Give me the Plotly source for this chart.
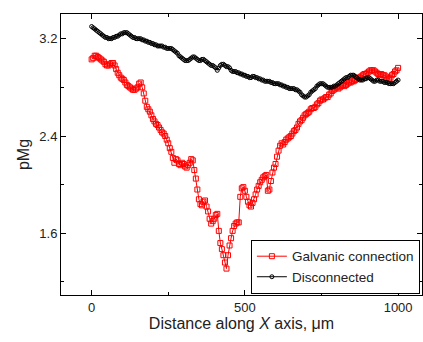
import plotly.graph_objects as go

distance_um = [
    0, 5, 10, 15, 20, 25, 30, 35, 40, 45, 50, 55, 60, 65, 70, 75, 80, 85, 90, 95,
    100, 105, 110, 115, 120, 125, 130, 135, 140, 145, 150, 155, 160, 165, 170, 175, 180, 185, 190, 195,
    200, 205, 210, 215, 220, 225, 230, 235, 240, 245, 250, 255, 260, 265, 270, 275, 280, 285, 290, 295,
    300, 305, 310, 315, 320, 325, 330, 335, 340, 345, 350, 355, 360, 365, 370, 375, 380, 385, 390, 395,
    400, 405, 410, 415, 420, 425, 430, 435, 440, 445, 450, 455, 460, 465, 470, 475, 480, 485, 490, 495,
    500, 505, 510, 515, 520, 525, 530, 535, 540, 545, 550, 555, 560, 565, 570, 575, 580, 585, 590, 595,
    600, 605, 610, 615, 620, 625, 630, 635, 640, 645, 650, 655, 660, 665, 670, 675, 680, 685, 690, 695,
    700, 705, 710, 715, 720, 725, 730, 735, 740, 745, 750, 755, 760, 765, 770, 775, 780, 785, 790, 795,
    800, 805, 810, 815, 820, 825, 830, 835, 840, 845, 850, 855, 860, 865, 870, 875, 880, 885, 890, 895,
    900, 905, 910, 915, 920, 925, 930, 935, 940, 945, 950, 955, 960, 965, 970, 975, 980, 985, 990, 995,
    1000]

galvanic = [
    3.03, 3.04, 3.06, 3.06, 3.05, 3.04, 3.03, 3.02, 3.01, 2.99, 2.98, 2.98, 2.99, 3.00, 3.00, 2.98, 2.95, 2.92, 2.90, 2.88,
    2.87, 2.86, 2.84, 2.82, 2.81, 2.80, 2.79, 2.78, 2.78, 2.79, 2.80, 2.83, 2.84, 2.80, 2.75, 2.69, 2.64, 2.62, 2.60, 2.57,
    2.54, 2.52, 2.50, 2.49, 2.47, 2.45, 2.43, 2.42, 2.40, 2.37, 2.34, 2.30, 2.27, 2.22, 2.18, 2.21, 2.20, 2.17, 2.16, 2.18,
    2.17, 2.15, 2.14, 2.16, 2.18, 2.21, 2.20, 2.12, 2.05, 1.96, 1.88, 1.84, 1.83, 1.86, 1.87, 1.82, 1.78, 1.72, 1.68, 1.70,
    1.72, 1.75, 1.76, 1.62, 1.52, 1.47, 1.42, 1.36, 1.31, 1.42, 1.50, 1.56, 1.62, 1.66, 1.68, 1.69, 1.69, 1.90, 1.97, 1.98,
    1.95, 1.90, 1.86, 1.83, 1.82, 1.85, 1.88, 1.92, 1.96, 1.99, 2.02, 2.04, 2.06, 2.07, 2.08, 1.95, 1.96, 2.03, 2.10, 2.14,
    2.17, 2.23, 2.28, 2.32, 2.34, 2.33, 2.35, 2.37, 2.38, 2.39, 2.40, 2.42, 2.44, 2.45, 2.47, 2.50, 2.52, 2.53, 2.55, 2.57,
    2.58, 2.59, 2.60, 2.62, 2.63, 2.63, 2.64, 2.66, 2.67, 2.69, 2.70, 2.70, 2.71, 2.72, 2.72, 2.74, 2.75, 2.77, 2.78, 2.79,
    2.80, 2.79, 2.80, 2.81, 2.82, 2.81, 2.82, 2.83, 2.84, 2.84, 2.85, 2.85, 2.86, 2.87, 2.88, 2.88, 2.89, 2.90, 2.91, 2.91,
    2.92, 2.93, 2.94, 2.94, 2.94, 2.93, 2.92, 2.91, 2.90, 2.91, 2.90, 2.90, 2.89, 2.88, 2.87, 2.88, 2.90, 2.91, 2.93, 2.94,
    2.96]

disconnected = [
    3.30, 3.29, 3.28, 3.27, 3.26, 3.25, 3.24, 3.23, 3.22, 3.21, 3.21, 3.20, 3.20, 3.20, 3.21, 3.21, 3.22, 3.22, 3.23, 3.24,
    3.24, 3.25, 3.25, 3.25, 3.24, 3.23, 3.22, 3.21, 3.21, 3.20, 3.20, 3.20, 3.20, 3.19, 3.19, 3.18, 3.18, 3.17, 3.17, 3.16,
    3.16, 3.15, 3.15, 3.14, 3.14, 3.14, 3.14, 3.13, 3.13, 3.12, 3.12, 3.12, 3.12, 3.11, 3.10, 3.09, 3.08, 3.06, 3.05, 3.04,
    3.03, 3.02, 3.02, 3.02, 3.03, 3.04, 3.05, 3.05, 3.04, 3.03, 3.02, 3.02, 3.03, 3.03, 3.02, 3.01, 3.00, 2.99, 2.98, 2.98,
    2.97, 2.96, 2.94, 2.96, 2.98, 2.99, 2.99, 2.98, 2.97, 2.97, 2.96, 2.94, 2.93, 2.93, 2.93, 2.92, 2.92, 2.91, 2.91, 2.90,
    2.90, 2.89, 2.89, 2.88, 2.88, 2.89, 2.89, 2.88, 2.88, 2.87, 2.87, 2.86, 2.86, 2.85, 2.85, 2.85, 2.85, 2.84, 2.84, 2.83,
    2.83, 2.83, 2.83, 2.82, 2.82, 2.81, 2.81, 2.80, 2.80, 2.79, 2.79, 2.79, 2.79, 2.78, 2.78, 2.77, 2.76, 2.74, 2.73, 2.72,
    2.72, 2.73, 2.74, 2.76, 2.77, 2.78, 2.79, 2.81, 2.82, 2.83, 2.83, 2.83, 2.82, 2.81, 2.80, 2.80, 2.80, 2.80, 2.81, 2.81,
    2.82, 2.83, 2.84, 2.85, 2.86, 2.87, 2.88, 2.88, 2.89, 2.90, 2.90, 2.90, 2.89, 2.88, 2.87, 2.86, 2.86, 2.86, 2.87, 2.87,
    2.88, 2.88, 2.87, 2.86, 2.85, 2.85, 2.86, 2.86, 2.85, 2.85, 2.85, 2.84, 2.84, 2.84, 2.83, 2.83, 2.83, 2.83, 2.84, 2.85,
    2.86]

font = "Liberation Sans, Arial, sans-serif"

fig = go.Figure()
fig.add_trace(go.Scatter(
    x=distance_um, y=galvanic, mode="lines+markers", name="Galvanic connection",
    line=dict(color="#ff0000", width=1),
    marker=dict(symbol="square-open", size=5, color="#ff0000", line=dict(width=1)),
))
fig.add_trace(go.Scatter(
    x=distance_um, y=disconnected, mode="lines+markers", name="Disconnected",
    line=dict(color="#000000", width=1),
    marker=dict(symbol="circle-open", size=4, color="#000000", line=dict(width=1)),
))

axis_common = dict(
    showline=True, linecolor="black", linewidth=1, mirror="ticks",
    ticks="inside", ticklen=5, tickwidth=1, tickcolor="black",
    showgrid=False, zeroline=False,
    tickfont=dict(family=font, size=13, color="#222222"),
)

fig.update_xaxes(
    range=[-100, 1078], tick0=0, dtick=500,
    minor=dict(dtick=250, ticks="inside", ticklen=3, tickcolor="black"),
    title=dict(text="Distance along <i>X</i> axis, μm", font=dict(family=font, size=16, color="#222222"), standoff=3),
    **axis_common,
)
fig.update_yaxes(
    range=[1.093, 3.403], tick0=1.6, dtick=0.8,
    minor=dict(dtick=0.4, ticks="inside", ticklen=3, tickcolor="black"),
    title=dict(text="pMg", font=dict(family=font, size=16, color="#222222"), standoff=5),
    **axis_common,
)

fig.update_layout(
    width=423, height=342,
    margin=dict(l=61, r=1, t=14, b=47),
    plot_bgcolor="white", paper_bgcolor="white",
    showlegend=True,
    legend=dict(
        x=0.526, y=0.196, xanchor="left", yanchor="top",
        bgcolor="white", bordercolor="black", borderwidth=1,
        font=dict(family=font, size=13.5, color="#222222"),
        tracegroupgap=0, itemwidth=30,
    ),
)

fig.write_html("out.html")
